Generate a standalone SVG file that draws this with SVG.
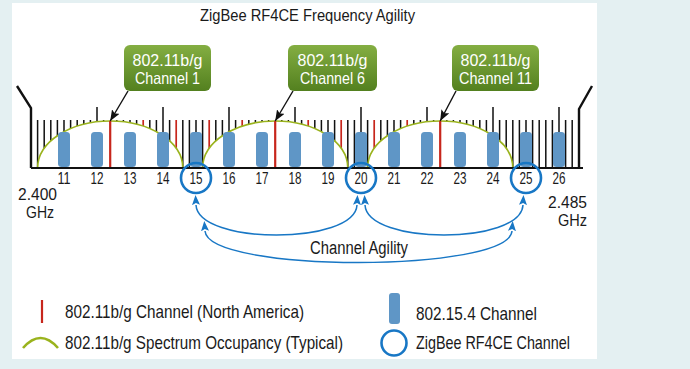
<svg xmlns="http://www.w3.org/2000/svg" width="690" height="369" viewBox="0 0 690 369">
<style>
text{font-family:"Liberation Sans Narrow","Liberation Sans",Arial,sans-serif;fill:#1a1a1a}
.num{font-size:16.5px;text-anchor:middle}
.box text{fill:#fff;font-size:16.5px;text-anchor:middle}
.leg{font-size:19px}
.ghz{font-size:17px}
.tick{stroke:#111;stroke-width:1.5;fill:none}
.red{stroke:#c7261c;fill:none}
.occ{fill:#fff;stroke:#9ab31d;stroke-width:1.6}
.bar{fill:#5f96c6}
.ring{fill:none;stroke:#1877c5;stroke-width:2.6}
.agil{fill:none;stroke:#1877c5;stroke-width:1.5;marker-start:url(#ba);marker-end:url(#ba)}
</style>
<defs>
<linearGradient id="gg" x1="0" y1="0" x2="0" y2="1">
<stop offset="0" stop-color="#84ae42"/>
<stop offset="1" stop-color="#53801f"/>
</linearGradient>
<marker id="ba" viewBox="0 0 10 8" refX="0" refY="4" markerWidth="10" markerHeight="8" markerUnits="userSpaceOnUse" orient="auto-start-reverse">
<path d="M0,0 L10,4 L0,8 L2,4 z" fill="#1877c5"/>
</marker>
<marker id="ka" viewBox="0 0 10 8" refX="10" refY="4" markerWidth="11" markerHeight="9" markerUnits="userSpaceOnUse" orient="auto">
<path d="M0,0 L10,4 L0,8 L2,4 z" fill="#111"/>
</marker>
</defs>
<rect width="690" height="369" fill="#e4f0f2"/>
<rect x="12" y="3" width="585" height="356" fill="#fff"/>
<text x="307.5" y="20.5" font-size="17" text-anchor="middle" textLength="215" lengthAdjust="spacingAndGlyphs">ZigBee RF4CE Frequency Agility</text>

<g id="scale">
<path class="tick" d="M37.6,120V168M44.2,120V168M50.8,120V168M57.4,120V168M64,120V168M70.6,120V168M77.2,120V168M83.8,120V168M90.4,120V168M103.6,120V168M116.8,120V168M123.4,120V168M130,120V168M136.6,120V168M149.8,120V168M156.4,120V168M169.6,120V168M182.8,120V168M189.4,120V168M196,120V168M202.6,120V168M215.8,120V168M222.4,120V168M235.6,120V168M248.8,120V168M255.4,120V168M262,120V168M268.6,120V168M281.8,120V168M288.4,120V168M301.6,120V168M314.8,120V168M321.4,120V168M328,120V168M334.6,120V168M347.8,120V168M354.4,120V168M367.6,120V168M380.8,120V168M387.4,120V168M394,120V168M400.6,120V168M413.8,120V168M420.4,120V168M433.6,120V168M446.8,120V168M453.4,120V168M460,120V168M466.6,120V168M473.2,120V168M479.8,120V168M486.4,120V168M499.6,120V168M506.2,120V168M512.8,120V168M519.4,120V168M526,120V168M532.6,120V168M539.2,120V168M545.8,120V168M552.4,120V168M565.6,120V168M572.2,120V168"/>
<path class="tick" d="M97,107V168M163,107V168M229,107V168M295,107V168M361,107V168M427,107V168M493,107V168M559,107V168"/>
<path class="red" stroke-width="1.7" d="M143.2,120V168M176.2,120V168M209.2,120V168M242.2,120V168M308.2,120V168M341.2,120V168M374.2,120V168M407.2,120V168"/>
<path class="occ" d="M37.6,168 A72.6,47 0 0 1 182.8,168"/>
<path class="occ" d="M202.6,168 A72.6,47 0 0 1 347.8,168"/>
<path class="occ" d="M367.6,168 A72.6,47 0 0 1 512.8,168"/>
<path class="red" stroke-width="2.2" d="M110.2,121V168M275.2,121V168M440.2,121V168"/>
</g>

<g id="channels">
<rect class="bar" x="58" y="132" width="12" height="35" rx="3.5"/>
<rect class="bar" x="91" y="132" width="12" height="35" rx="3.5"/>
<rect class="bar" x="124" y="132" width="12" height="35" rx="3.5"/>
<rect class="bar" x="157" y="132" width="12" height="35" rx="3.5"/>
<rect class="bar" x="190" y="132" width="12" height="35" rx="3.5"/>
<rect class="bar" x="223" y="132" width="12" height="35" rx="3.5"/>
<rect class="bar" x="256" y="132" width="12" height="35" rx="3.5"/>
<rect class="bar" x="289" y="132" width="12" height="35" rx="3.5"/>
<rect class="bar" x="322" y="132" width="12" height="35" rx="3.5"/>
<rect class="bar" x="355" y="132" width="12" height="35" rx="3.5"/>
<rect class="bar" x="388" y="132" width="12" height="35" rx="3.5"/>
<rect class="bar" x="421" y="132" width="12" height="35" rx="3.5"/>
<rect class="bar" x="454" y="132" width="12" height="35" rx="3.5"/>
<rect class="bar" x="487" y="132" width="12" height="35" rx="3.5"/>
<rect class="bar" x="520" y="132" width="12" height="35" rx="3.5"/>
<rect class="bar" x="553" y="132" width="12" height="35" rx="3.5"/>
</g>

<g id="axis">
<path d="M31,168H583" stroke="#111" stroke-width="2" fill="none"/>
<path d="M17,86L31,108V168" stroke="#111" stroke-width="2.4" fill="none"/>
<path d="M592,86L579,109V168" stroke="#111" stroke-width="2.4" fill="none"/>
<text class="num" x="64" y="184" textLength="13" lengthAdjust="spacingAndGlyphs">11</text>
<text class="num" x="97" y="184" textLength="13" lengthAdjust="spacingAndGlyphs">12</text>
<text class="num" x="130" y="184" textLength="13" lengthAdjust="spacingAndGlyphs">13</text>
<text class="num" x="163" y="184" textLength="13" lengthAdjust="spacingAndGlyphs">14</text>
<text class="num" x="196" y="184" textLength="13" lengthAdjust="spacingAndGlyphs">15</text>
<text class="num" x="229" y="184" textLength="13" lengthAdjust="spacingAndGlyphs">16</text>
<text class="num" x="262" y="184" textLength="13" lengthAdjust="spacingAndGlyphs">17</text>
<text class="num" x="295" y="184" textLength="13" lengthAdjust="spacingAndGlyphs">18</text>
<text class="num" x="328" y="184" textLength="13" lengthAdjust="spacingAndGlyphs">19</text>
<text class="num" x="361" y="184" textLength="13" lengthAdjust="spacingAndGlyphs">20</text>
<text class="num" x="394" y="184" textLength="13" lengthAdjust="spacingAndGlyphs">21</text>
<text class="num" x="427" y="184" textLength="13" lengthAdjust="spacingAndGlyphs">22</text>
<text class="num" x="460" y="184" textLength="13" lengthAdjust="spacingAndGlyphs">23</text>
<text class="num" x="493" y="184" textLength="13" lengthAdjust="spacingAndGlyphs">24</text>
<text class="num" x="526" y="184" textLength="13" lengthAdjust="spacingAndGlyphs">25</text>
<text class="num" x="559" y="184" textLength="13" lengthAdjust="spacingAndGlyphs">26</text>
<text class="ghz" x="18" y="200" textLength="39" lengthAdjust="spacingAndGlyphs">2.400</text>
<text class="ghz" x="26" y="218" textLength="28" lengthAdjust="spacingAndGlyphs">GHz</text>
<text class="ghz" x="548" y="208" textLength="39" lengthAdjust="spacingAndGlyphs">2.485</text>
<text class="ghz" x="558" y="226" textLength="29" lengthAdjust="spacingAndGlyphs">GHz</text>
</g>

<g id="rf4ce">
<circle class="ring" cx="196" cy="178" r="15"/>
<circle class="ring" cx="361" cy="178" r="15"/>
<circle class="ring" cx="526" cy="178" r="15"/>
</g>

<g id="wifi-ch1" class="box">
<rect x="124" y="45" width="87" height="46" rx="6" fill="url(#gg)"/>
<text x="167.5" y="66" textLength="70" lengthAdjust="spacingAndGlyphs">802.11b/g</text>
<text x="167.5" y="84" textLength="65" lengthAdjust="spacingAndGlyphs">Channel 1</text>
</g>
<g id="wifi-ch6" class="box">
<rect x="288" y="45" width="89" height="46" rx="6" fill="url(#gg)"/>
<text x="332.5" y="66" textLength="70" lengthAdjust="spacingAndGlyphs">802.11b/g</text>
<text x="332.5" y="84" textLength="65" lengthAdjust="spacingAndGlyphs">Channel 6</text>
</g>
<g id="wifi-ch11" class="box">
<rect x="452" y="45" width="87" height="46" rx="6" fill="url(#gg)"/>
<text x="495.5" y="66" textLength="70" lengthAdjust="spacingAndGlyphs">802.11b/g</text>
<text x="495.5" y="84" textLength="73" lengthAdjust="spacingAndGlyphs">Channel 11</text>
</g>

<g id="connectors">
<path d="M128,91L110.2,121" stroke="#111" stroke-width="1.4" fill="none" marker-end="url(#ka)"/>
<path d="M293,91L275.2,121" stroke="#111" stroke-width="1.4" fill="none" marker-end="url(#ka)"/>
<path d="M456,91L440.2,121" stroke="#111" stroke-width="1.4" fill="none" marker-end="url(#ka)"/>
<path class="agil" d="M196,205C198,245 355,245 357,205"/>
<path class="agil" d="M365,205C367,245 521,245 523,205"/>
<path class="agil" d="M205,231C208,273 509,273 512,231"/>
</g>
<text x="359" y="254" text-anchor="middle" textLength="98" lengthAdjust="spacingAndGlyphs" style="font-size:18px">Channel Agility</text>

<g id="legend">
<path d="M42,300V323" stroke="#c7261c" stroke-width="2.2"/>
<text class="leg" x="65" y="318" textLength="239" lengthAdjust="spacingAndGlyphs">802.11b/g Channel (North America)</text>
<path d="M23,348Q40.5,328 58,348" stroke="#9ab31d" stroke-width="2.6" fill="none"/>
<text class="leg" x="65" y="348.5" textLength="278" lengthAdjust="spacingAndGlyphs">802.11b/g Spectrum Occupancy (Typical)</text>
<rect class="bar" x="389" y="293" width="11" height="31" rx="3"/>
<text class="leg" x="416" y="320" textLength="121" lengthAdjust="spacingAndGlyphs">802.15.4 Channel</text>
<circle class="ring" cx="394" cy="343" r="12.5"/>
<text class="leg" x="416" y="349" textLength="154" lengthAdjust="spacingAndGlyphs">ZigBee RF4CE Channel</text>
</g>
</svg>
